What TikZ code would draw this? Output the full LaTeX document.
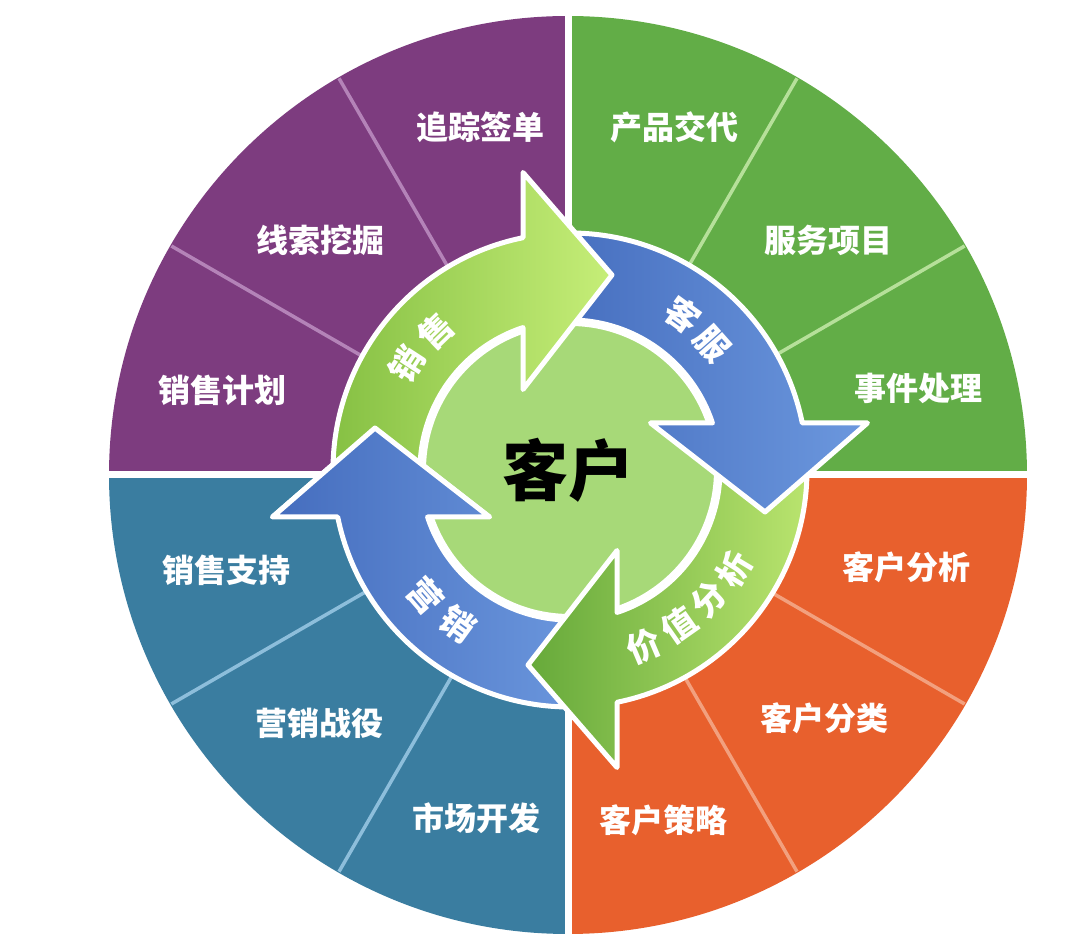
\documentclass[tikz,border=0pt]{standalone}
\usepackage{fontspec}
\newfontfamily\cjk{Noto Sans CJK SC}
\definecolor{quadP}{HTML}{7D3C7F}
\definecolor{quadG}{HTML}{62AD47}
\definecolor{quadT}{HTML}{3A7DA0}
\definecolor{quadO}{HTML}{E8602D}
\definecolor{divP}{HTML}{B483B8}
\definecolor{divG}{HTML}{B6E09A}
\definecolor{divT}{HTML}{8DBEDB}
\definecolor{divO}{HTML}{F2A07E}
\definecolor{gDarkA}{HTML}{84BF42}
\definecolor{gLightA}{HTML}{C6EE78}
\definecolor{gDarkB}{HTML}{66A93A}
\definecolor{gLightB}{HTML}{BCE670}
\definecolor{bDark}{HTML}{456DBE}
\definecolor{bLight}{HTML}{6C98DE}
\definecolor{coreG}{HTML}{A7D978}
\newcommand\cyclearrow{(185:237) arc[start angle=185,end angle=101.44,radius=237] -- (-47,297.5) -- (42,195) -- (-47,80.5) -- (108.26:150) arc[start angle=108.26,end angle=185,radius=150] -- cycle}
\tikzset{
  arrowbase/.style={draw=white, line width=5, line join=round},
  greenA/.style={arrowbase, left color=gDarkA, right color=gLightA},
  greenB/.style={arrowbase, left color=gDarkB, right color=gLightB},
  bluearrow/.style={arrowbase, left color=bDark, right color=bLight},
  qlabel/.style={text=white, inner sep=0pt, font=\cjk\bfseries\fontsize{32}{32}\selectfont},
  alabel/.style={text=white, inner sep=0pt, font=\cjk\bfseries\fontsize{34}{34}\selectfont},
  divider/.style={line width=3.5},
}
\begin{document}
\begin{tikzpicture}[x=1pt,y=1pt]
\useasboundingbox (0,0) rectangle (1080,951);
\fill[white] (0,0) rectangle (1080,951);
\coordinate (Q) at (568,476);
\coordinate (O) at (570,481);
% quadrants
\begin{scope}[shift={(568,476)}]
  \fill[quadP] (0,0) -- (90:459) arc[start angle=90,end angle=180,radius=459] -- cycle;
  \fill[quadG] (0,0) -- (0:459) arc[start angle=0,end angle=90,radius=459] -- cycle;
  \fill[quadT] (0,0) -- (180:459) arc[start angle=180,end angle=270,radius=459] -- cycle;
  \fill[quadO] (0,0) -- (270:459) arc[start angle=270,end angle=360,radius=459] -- cycle;
  \draw[divider, divP] (120:200) -- (120:458);
  \draw[divider, divP] (150:200) -- (150:458);
  \draw[divider, divG] (60:200) -- (60:458);
  \draw[divider, divG] (30:200) -- (30:458);
  \draw[divider, divT] (210:200) -- (210:458);
  \draw[divider, divT] (240:200) -- (240:458);
  \draw[divider, divO] (300:200) -- (300:458);
  \draw[divider, divO] (330:200) -- (330:458);
  \draw[white, line width=7] (0,-470) -- (0,470);
  \draw[white, line width=7] (-470,0) -- (470,0);
\end{scope}
% quadrant labels
\node[qlabel] (q1) at (480,824) {追踪签单};
\node[qlabel] (q2) at (320,711) {线索挖掘};
\node[qlabel] (q3) at (222,561) {销售计划};
\node[qlabel] (q4) at (674,824) {产品交代};
\node[qlabel] (q5) at (828,711) {服务项目};
\node[qlabel] (q6) at (918,563) {事件处理};
\node[qlabel] (q7) at (226,381) {销售支持};
\node[qlabel] (q8) at (319,228) {营销战役};
\node[qlabel] (q9) at (476,133) {市场开发};
\node[qlabel] (q10) at (906,384) {客户分析};
\node[qlabel] (q11) at (824,233) {客户分类};
\node[qlabel] (q12) at (663,131) {客户策略};
% core circle
\fill[coreG, draw=white, line width=4] (O) circle[radius=146];
% cycle arrows
\begin{scope}[shift={(570,481)}]
  \begin{scope}[rotate=90]\draw[bluearrow] \cyclearrow;\end{scope}
  \begin{scope}[rotate=180]\draw[greenB] \cyclearrow;\end{scope}
  \begin{scope}[rotate=-90]\draw[bluearrow] \cyclearrow;\end{scope}
  \draw[greenA] \cyclearrow;
  \begin{scope}
    \clip (-330,-49) rectangle (-40,140);
    \begin{scope}[rotate=90]\draw[bluearrow] \cyclearrow;\end{scope}
  \end{scope}
  % arrow labels
  \node[alabel, rotate=57] (a1) at (147:195) {销};
  \node[alabel, rotate=44] (a2) at (134:193) {售};
  \node[alabel, rotate=-36] (a3) at (54:192) {客};
  \node[alabel, rotate=-48.5] (a4) at (41.5:190) {服};
  \node[alabel, rotate=-49] (a5) at (221:192) {营};
  \node[alabel, rotate=-36] (a6) at (234:190) {销};
  \node[alabel, rotate=23] (a7) at (-67:191) {价};
  \node[alabel, rotate=35] (a8) at (-55:190) {值};
  \node[alabel, rotate=47] (a9) at (-43:190) {分};
  \node[alabel, rotate=59] (a10) at (-31:192) {析};
\end{scope}
\node[inner sep=0pt, font=\cjk\bfseries\fontsize{66}{66}\selectfont] (core) at (568,481) {客户};
\end{tikzpicture}
\end{document}
